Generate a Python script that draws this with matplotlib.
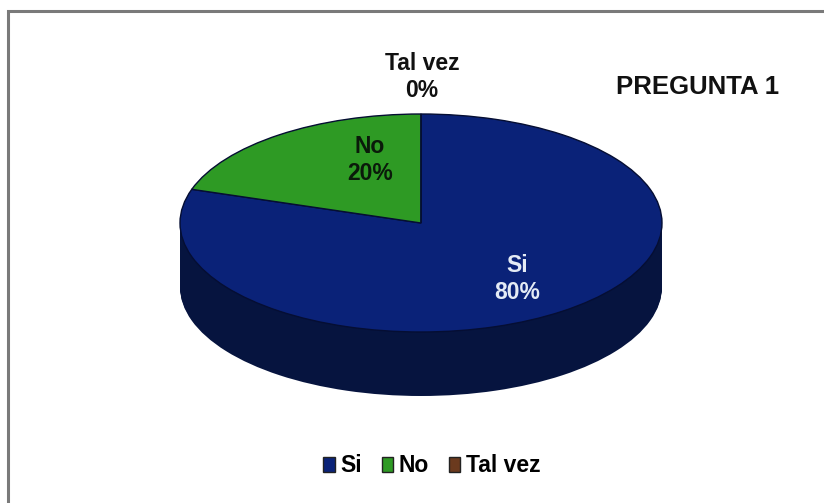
import matplotlib
matplotlib.use("Agg")
import matplotlib.pyplot as plt
from matplotlib.patches import Rectangle

plt.rcParams['font.family'] = ['Liberation Sans', 'DejaVu Sans']
plt.rcParams['font.weight'] = 'bold'

categories = ['Si', 'No', 'Tal vez']
values = [80, 20, 0]
top_colors = ['#0a2278', '#2e9a24', '#6b3a1e']
side_colors = ['#06143f', '#1c6416', '#4a2814']
title = 'PREGUNTA 1'

W, H = 824, 503
cx, cy = 421, 223      # centre of the top face, pixels
rx, ry = 241, 109      # radii of the top face, pixels
depth = 64             # thickness of the disc, pixels

fig = plt.figure(figsize=(W / 100, H / 100), dpi=100)
fig.patch.set_facecolor('white')
ax = fig.add_axes([0, 0, 1, 1])

# disc side: stack of darker pies pushed downwards
n_layers = 60
for i in range(n_layers, 0, -1):
    off = depth / ry * i / n_layers
    ax.pie(values, colors=side_colors, center=(0, -off), radius=1,
           startangle=90, counterclock=False,
           wedgeprops=dict(linewidth=0))

# top face
wedges, _ = ax.pie(values, colors=top_colors, center=(0, 0), radius=1,
                   startangle=90, counterclock=False,
                   wedgeprops=dict(linewidth=1.0, edgecolor='#050e33'))

# one data unit = rx px across and ry px down
ax.set_aspect('auto')
ax.set_xlim(-cx / rx, (W - cx) / rx)
ax.set_ylim(-(H - cy) / ry, cy / ry)
ax.axis('off')

def px(x, y):
    return x / W, 1 - y / H

total = sum(values)
pct = [f'{v / total:.0%}' for v in values]

fig.text(*px(422, 77), f'{categories[2]}\n{pct[2]}', ha='center', va='center',
         fontsize=16.5, color='#111111', linespacing=1.25)
fig.text(*px(370, 160), f'{categories[1]}\n{pct[1]}', ha='center', va='center',
         fontsize=16.5, color='#0a1a0a', linespacing=1.25)
fig.text(*px(517, 279), f'{categories[0]}\n{pct[0]}', ha='center', va='center',
         fontsize=16.5, color='#e4ebf5', linespacing=1.25)
fig.text(*px(698, 87), title, ha='center', va='center', fontsize=18.5,
         color='#111111')

leg = ax.legend(wedges, categories, loc='center', ncol=3,
                bbox_to_anchor=px(432, 466), bbox_transform=fig.transFigure,
                frameon=False, fontsize=16.5, handlelength=0.5,
                handleheight=0.6, handletextpad=0.25, columnspacing=0.85)
for h in leg.legend_handles:
    h.set_edgecolor('#222222')
    h.set_linewidth(1.0)

# outer chart border
fig.patches.append(Rectangle(px(8, H + 20), 1.2, (H + 9) / H,
                             transform=fig.transFigure, fill=False,
                             edgecolor='#7a7a7a', linewidth=2.2))

fig.savefig('out.png', dpi=100)
